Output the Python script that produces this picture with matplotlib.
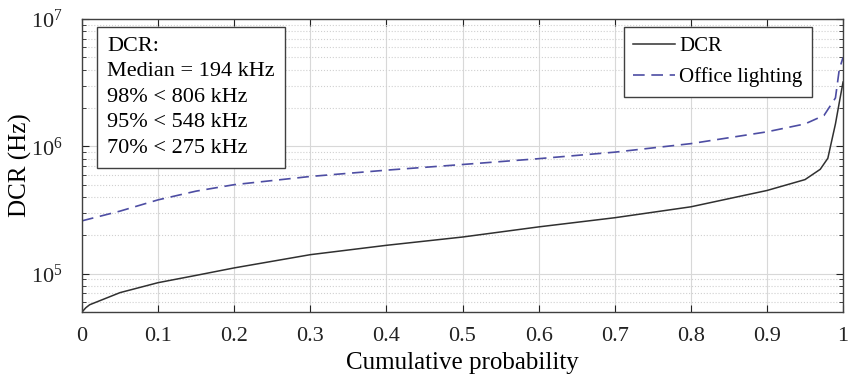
import matplotlib.pyplot as plt
from matplotlib.ticker import LogLocator, NullFormatter

plt.rcParams['font.family'] = ['Liberation Serif', 'DejaVu Serif']
plt.rcParams['mathtext.fontset'] = 'stix'

# cumulative probability vs DCR (Hz)
p_dcr = [0, 0.005, 0.01, 0.05, 0.1, 0.15, 0.2, 0.3, 0.4, 0.5, 0.6, 0.7,
         0.8, 0.9, 0.95, 0.97, 0.98, 0.985, 0.99, 0.995, 1.0]
dcr = [5.0e4, 5.4e4, 5.7e4, 7.1e4, 8.5e4, 9.7e4, 1.11e5, 1.41e5, 1.67e5, 1.94e5,
       2.33e5, 2.75e5, 3.35e5, 4.5e5, 5.48e5, 6.6e5, 8.06e5, 1.1e6, 1.5e6, 2.2e6, 3.2e6]

p_office = [0, 0.05, 0.1, 0.15, 0.2, 0.3, 0.4, 0.5, 0.6, 0.7, 0.8, 0.9,
            0.95, 0.975, 0.99, 0.995, 1.0]
office = [2.6e5, 3.1e5, 3.8e5, 4.45e5, 5.0e5, 5.8e5, 6.5e5, 7.2e5, 8.0e5, 9.0e5,
          1.05e6, 1.3e6, 1.5e6, 1.75e6, 2.4e6, 4.0e6, 5.0e6]

xticks = [0, 0.1, 0.2, 0.3, 0.4, 0.5, 0.6, 0.7, 0.8, 0.9, 1]
xticklabels = ['0', '0.1', '0.2', '0.3', '0.4', '0.5', '0.6', '0.7', '0.8', '0.9', '1']

stats = ['DCR:', 'Median = 194 kHz', '98% < 806 kHz', '95% < 548 kHz', '70% < 275 kHz']

fig = plt.figure(figsize=(8.49, 3.77), dpi=100)
ax = fig.add_axes([0.0966, 0.1724, 0.8964, 0.7772])

ax.plot(p_dcr, dcr, color='#303030', lw=1.1, label='DCR')
ax.plot(p_office, office, color='#4d4da3', lw=1.2, ls=(0, (7, 4)), label='Office lighting')

ax.set_yscale('log')
ax.set_xlim(0, 1)
ax.set_ylim(5e4, 1e7)
ax.set_xticks(xticks)
ax.set_xticklabels(xticklabels)
ax.yaxis.set_major_locator(LogLocator(base=10, numticks=10))
ax.yaxis.set_minor_locator(LogLocator(base=10, subs=range(2, 10), numticks=10))
ax.yaxis.set_minor_formatter(NullFormatter())

ax.grid(True, which='major', color='#d8d8d8', lw=0.8)
ax.grid(True, which='minor', axis='y', color='#d0d0d0', lw=0.8, ls=':')
ax.tick_params(which='both', direction='in', top=True, right=True, labelsize=16,
               colors='#222222')
ax.tick_params(axis='x', pad=11)
ax.tick_params(axis='y', pad=14)
ax.tick_params(which='major', length=5)
ax.tick_params(which='minor', length=3)
for s in ax.spines.values():
    s.set_color('#404040')
    s.set_linewidth(1.0)

ax.set_xlabel('Cumulative probability', fontsize=18, labelpad=4)
ax.set_ylabel('DCR (Hz)', fontsize=18)
ax.yaxis.set_label_coords(-0.066, 0.5)

ax.text(0.0327, 0.94, '\n'.join(stats), transform=ax.transAxes, fontsize=16,
        va='top', ha='left', linespacing=1.47,
        bbox=dict(boxstyle='square,pad=0.45', fc='white', ec='#404040', lw=1.0))

leg = ax.legend(loc='upper right', bbox_to_anchor=(0.959, 0.973), fontsize=15,
                handlelength=2.0, handletextpad=0.2, fancybox=False, framealpha=1,
                borderpad=0.45, labelspacing=0.55, borderaxespad=0)
leg.get_frame().set_edgecolor('#404040')
leg.get_frame().set_linewidth(1.0)

fig.savefig('out.png', dpi=100)
